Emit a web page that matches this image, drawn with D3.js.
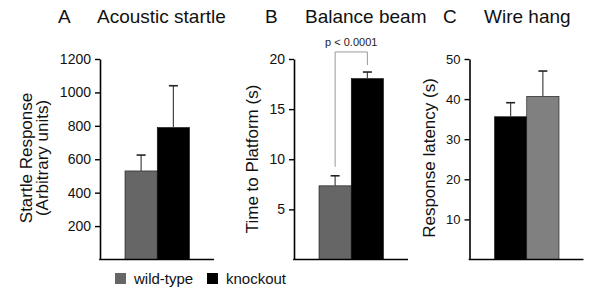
<!DOCTYPE html>
<html>
<head>
<meta charset="utf-8">
<script src="https://cdn.jsdelivr.net/npm/d3@7"></script>
<style>
  body { margin: 0; background: #fff; }
  svg { display: block; font-family: Arial, "Liberation Sans", sans-serif; }
</style>
</head>
<body>
<div id="chart"></div>
<script>
// data
const groups = ["wild-type", "knockout"];
const groupColors = { "wild-type": "#666666", "knockout": "#000000" };

const startleOrder = ["wild-type", "knockout"];
const startleMean = [530, 790];
const startleErr = [95, 250];
const startleTicks = [200, 400, 600, 800, 1000, 1200];

const beamOrder = ["wild-type", "knockout"];
const beamMean = [7.35, 18.05];
const beamErr = [1.0, 0.65];
const beamTicks = [5, 10, 15, 20];
const beamP = "p < 0.0001";

const wireOrder = ["knockout", "wild-type"];
const wireMean = [35.6, 40.7];
const wireErr = [3.5, 6.3];
const wireTicks = [10, 20, 30, 40, 50];

const width = 600, height = 297;
const plotTop = 59, plotBottom = 259.5;

const svg = d3.select("#chart")
  .append("svg")
  .attr("width", width)
  .attr("height", height);

// one panel = titled bar chart with upward error bars
function panel(opt) {
  const g = svg.append("g");

  const x = d3.scaleBand()
    .domain(opt.order)
    .range([opt.left + 25, opt.left + 89.5])
    .paddingInner(0);

  const y = d3.scaleLinear()
    .domain([0, opt.max])
    .range([plotBottom, plotTop]);

  // titles
  g.append("text")
    .attr("x", opt.letterX).attr("y", 23)
    .style("font-size", "19px").attr("fill", "#111")
    .text(opt.letter);
  g.append("text")
    .attr("x", opt.titleX).attr("y", 23)
    .style("font-size", "19px").attr("fill", "#111")
    .text(opt.title);

  // bars
  const rows = opt.order.map((k, i) => ({ key: k, v: opt.mean[i], e: opt.err[i] }));
  g.selectAll("rect.bar")
    .data(rows)
    .join("rect")
    .attr("class", "bar")
    .attr("x", d => x(d.key))
    .attr("y", d => y(d.v))
    .attr("width", x.bandwidth())
    .attr("height", d => y(0) - y(d.v))
    .attr("fill", d => (opt.colors || groupColors)[d.key])
    .attr("stroke", "#111")
    .attr("stroke-width", 0.6);

  // error bars, upper whisker only
  const cx = d => x(d.key) + x.bandwidth() / 2;
  g.selectAll("line.stem")
    .data(rows)
    .join("line")
    .attr("class", "stem")
    .attr("x1", cx).attr("x2", cx)
    .attr("y1", d => y(d.v)).attr("y2", d => y(d.v + d.e))
    .attr("stroke", "#444").attr("stroke-width", 1.2);
  g.selectAll("line.cap")
    .data(rows)
    .join("line")
    .attr("class", "cap")
    .attr("x1", d => cx(d) - 4.5).attr("x2", d => cx(d) + 4.5)
    .attr("y1", d => y(d.v + d.e)).attr("y2", d => y(d.v + d.e))
    .attr("stroke", "#222").attr("stroke-width", 1.6);

  // axes
  const ya = g.append("g")
    .attr("transform", `translate(${opt.left},0)`)
    .call(d3.axisLeft(y).tickValues(opt.ticks).tickFormat(d3.format("d"))
      .tickSize(5).tickSizeOuter(0).tickPadding(4));
  ya.select(".domain").attr("stroke-width", 1.6);
  ya.selectAll(".tick line").attr("stroke-width", 1.4);
  ya.selectAll(".tick text")
    .style("font-size", opt.tickSize + "px")
    .style("font-family", "Arial, 'Liberation Sans', sans-serif")
    .attr("fill", "#111");

  g.append("line")
    .attr("x1", opt.left - 0.8).attr("x2", opt.left + 114)
    .attr("y1", y(0)).attr("y2", y(0))
    .attr("stroke", "#000").attr("stroke-width", 1.6);

  // y label (one or two lines)
  const lab = g.append("text")
    .attr("transform", `translate(${opt.labelX},${opt.labelY}) rotate(-90)`)
    .attr("text-anchor", "middle")
    .style("font-size", "17px").attr("fill", "#111");
  opt.label.forEach((t, i) => {
    lab.append("tspan")
      .attr("x", 0)
      .attr("dy", i === 0 ? 0 : "0.97em")
      .text(t);
  });

  return { x, y, rows };
}

panel({
  left: 100, max: 1200, ticks: startleTicks, tickSize: 14,
  order: startleOrder, mean: startleMean, err: startleErr,
  letter: "A", letterX: 58, title: "Acoustic startle", titleX: 97,
  label: ["Startle Response", "(Arbitrary units)"], labelX: 32, labelY: 158
});

const pb = panel({
  left: 294, max: 20, ticks: beamTicks, tickSize: 14,
  order: beamOrder, mean: beamMean, err: beamErr,
  letter: "B", letterX: 265, title: "Balance beam", titleX: 305,
  label: ["Time to Platform (s)"], labelX: 258, labelY: 159
});

panel({
  left: 469.5, max: 50, ticks: wireTicks, tickSize: 13,
  order: wireOrder, mean: wireMean, err: wireErr,
  colors: { "wild-type": "#808080", "knockout": "#000000" },
  letter: "C", letterX: 443, title: "Wire hang", titleX: 484,
  label: ["Response latency (s)"], labelX: 435, labelY: 158
});

// significance bracket on panel B
const bx = k => pb.x(k) + pb.x.bandwidth() / 2;
const yTop = pb.y(20.7);
const bracket = d3.path();
bracket.moveTo(bx("wild-type"), pb.y(beamMean[0] + beamErr[0]) - 9);
bracket.lineTo(bx("wild-type"), yTop);
bracket.lineTo(bx("knockout"), yTop);
bracket.lineTo(bx("knockout"), pb.y(beamMean[1] + beamErr[1]) - 7);
svg.append("path")
  .attr("d", bracket.toString())
  .attr("fill", "none")
  .attr("stroke", "#9a9a9a")
  .attr("stroke-width", 1);
svg.append("text")
  .attr("x", (bx("wild-type") + bx("knockout")) / 2)
  .attr("y", yTop - 6)
  .attr("text-anchor", "middle")
  .style("font-size", "11px").attr("fill", "#222")
  .text(beamP);

// legend
const legend = svg.append("g").attr("transform", "translate(115,273)");
const legX = [0, 92];
legend.selectAll("rect")
  .data(groups)
  .join("rect")
  .attr("x", (d, i) => legX[i])
  .attr("y", 0)
  .attr("width", 11).attr("height", 11)
  .attr("fill", d => groupColors[d]);
legend.selectAll("text")
  .data(groups)
  .join("text")
  .attr("x", (d, i) => legX[i] + 19)
  .attr("y", 11)
  .style("font-size", "15px").attr("fill", "#111")
  .text(d => d);
</script>
</body>
</html>
